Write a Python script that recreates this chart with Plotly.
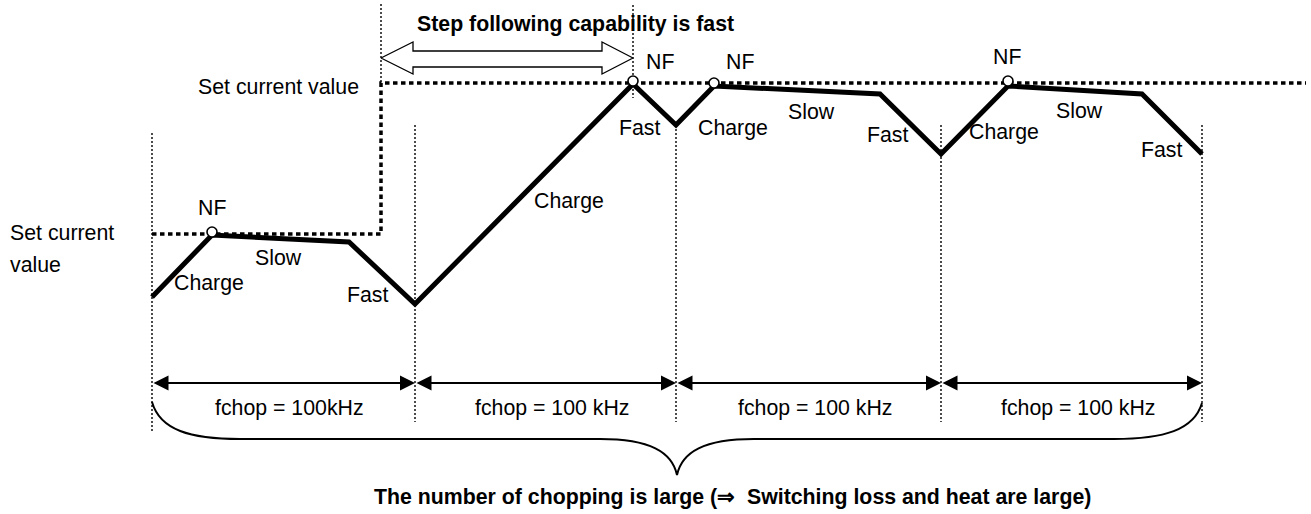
import plotly.graph_objects as go

# ---------------- data (diagram coordinates, y grows downward) ----------------
wave_x = [152, 212, 349, 415, 633, 676, 714, 880, 941, 1008, 1142, 1202]
wave_y = [297, 235, 242, 304, 84, 125, 86, 94, 154, 86, 94, 154]

setpoint_x = [152, 381, 381, 1306]
setpoint_y = [234, 234, 83, 83]

nf_x = [212, 633, 714, 1008]
nf_y = [232, 81, 83, 81]

period_edges = [152, 415, 676, 941, 1202]
guide_top = [133, 125, 125, 125, 125]
guide_bottom = [432, 422, 422, 422, 422]

step_guides_x = [381, 633]
step_guides_top = [4, 5]
step_guides_bottom = [83, 98]

fchop_labels = ["fchop = 100kHz", "fchop = 100 kHz", "fchop = 100 kHz", "fchop = 100 kHz"]
fchop_x = [289, 552, 815, 1078]

label_text = ["NF", "Charge", "Slow", "Fast", "Charge", "NF", "NF", "Fast", "Charge",
              "Slow", "Fast", "NF", "Charge", "Slow", "Fast", "Set current value"]
label_x = [212, 209, 278, 368, 569, 660, 740, 640, 733, 811, 888, 1007, 1004, 1079, 1162, 278]
label_y = [208, 283, 258, 295, 201, 62, 62, 128, 128, 112, 135, 57, 132, 111, 150, 87]

title_top = "Step following capability is fast"
title_bottom = "The number of chopping is large (\u21d2  Switching loss and heat are large)"

# hollow double arrow outline
harrow_x = [381, 413, 413, 602, 602, 633, 602, 602, 413, 413, 381]
harrow_y = [58, 42, 51, 51, 42, 58, 74, 67, 67, 74, 58]

FONT = "Liberation Sans, Arial, sans-serif"
FS = 21.3
W, H = 1311, 514

fig = go.Figure()

# thin dotted guides
for x, y0, y1 in zip(period_edges, guide_top, guide_bottom):
    fig.add_trace(go.Scatter(x=[x, x], y=[y0, y1], mode="lines",
                             line=dict(color="black", width=1.4, dash="2px,2px"),
                             hoverinfo="skip"))
for x, y0, y1 in zip(step_guides_x, step_guides_top, step_guides_bottom):
    fig.add_trace(go.Scatter(x=[x, x], y=[y0, y1], mode="lines",
                             line=dict(color="black", width=1.4, dash="2px,2px"),
                             hoverinfo="skip"))

# set current value (dotted thick)
fig.add_trace(go.Scatter(x=setpoint_x, y=setpoint_y, mode="lines",
                         line=dict(color="black", width=3.5, dash="4.5px,3.5px"),
                         hoverinfo="skip"))

# hollow double arrow
fig.add_trace(go.Scatter(x=harrow_x, y=harrow_y, mode="lines", fill="toself",
                         fillcolor="white", line=dict(color="black", width=1.3),
                         hoverinfo="skip"))

# current waveform
fig.add_trace(go.Scatter(x=wave_x, y=wave_y, mode="lines",
                         line=dict(color="black", width=5), hoverinfo="skip"))

# NF circles
fig.add_trace(go.Scatter(x=nf_x, y=nf_y, mode="markers",
                         marker=dict(symbol="circle", size=10, color="white",
                                     line=dict(color="black", width=1.6)),
                         hoverinfo="skip"))

annotations = []
# dimension arrows
for a, b in zip(period_edges[:-1], period_edges[1:]):
    annotations.append(dict(x=b, y=383, ax=a, ay=383, xref="x", yref="y", axref="x", ayref="y",
                            showarrow=True, arrowhead=2, startarrowhead=2, arrowside="end+start",
                            arrowsize=1.5, startarrowsize=1.5, arrowwidth=2, arrowcolor="black",
                            standoff=0, startstandoff=0, text=""))
for t, x in zip(fchop_labels, fchop_x):
    annotations.append(dict(x=x, y=408, xref="x", yref="y", text=t, showarrow=False,
                            font=dict(family=FONT, size=FS, color="black"),
                            xanchor="center", yanchor="middle"))
for t, x, y in zip(label_text, label_x, label_y):
    annotations.append(dict(x=x, y=y, xref="x", yref="y", text=t, showarrow=False,
                            font=dict(family=FONT, size=FS, color="black"),
                            xanchor="center", yanchor="middle"))
annotations.append(dict(x=8, y=233, xref="x", yref="y", text="Set current", showarrow=False,
                        font=dict(family=FONT, size=FS, color="black"),
                        xanchor="left", yanchor="middle"))
annotations.append(dict(x=8, y=265, xref="x", yref="y", text="value", showarrow=False,
                        font=dict(family=FONT, size=FS, color="black"),
                        xanchor="left", yanchor="middle"))
annotations.append(dict(x=415, y=24, xref="x", yref="y", text="<b>%s</b>" % title_top,
                        showarrow=False, font=dict(family=FONT, size=21.3, color="black"),
                        xanchor="left", yanchor="middle"))
annotations.append(dict(x=372, y=497, xref="x", yref="y", text="<b>%s</b>" % title_bottom,
                        showarrow=False, font=dict(family=FONT, size=21.3, color="black"),
                        xanchor="left", yanchor="middle"))

# curly brace under the periods
bl, br = period_edges[0], period_edges[-1]
mid = (bl + br) / 2
brace = (f"M {bl},402 C {bl+8},430 {bl+38},439 {bl+88},439 "
         f"L {mid-77},439 C {mid-27},439 {mid-5},452 {mid},475 "
         f"C {mid+5},452 {mid+27},439 {mid+77},439 "
         f"L {br-88},439 C {br-38},439 {br-8},430 {br},403")
shapes = [dict(type="path", path=brace, xref="x", yref="y",
               line=dict(color="black", width=2), fillcolor="rgba(0,0,0,0)")]

fig.update_layout(
    width=W, height=H, margin=dict(l=0, r=0, t=0, b=0),
    paper_bgcolor="white", plot_bgcolor="white", showlegend=False,
    xaxis=dict(range=[0, W], visible=False, fixedrange=True),
    yaxis=dict(range=[H, 0], visible=False, fixedrange=True),
    annotations=annotations, shapes=shapes,
)

fig.write_html("out.html", config={"displayModeBar": False},
               post_script="document.body.style.margin='0';document.body.style.overflow='hidden';")
